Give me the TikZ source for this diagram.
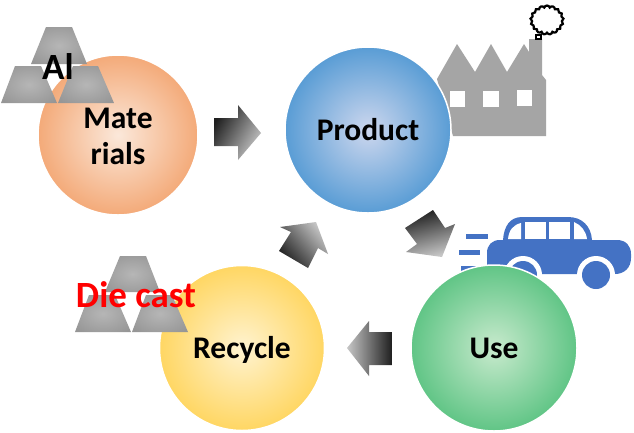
\documentclass[tikz,border=0pt]{standalone}
\usepackage{fontspec}
\setmainfont{Carlito}
\usetikzlibrary{shapes.symbols}
\definecolor{carblue}{HTML}{4472C4}
\definecolor{factorygrey}{HTML}{A5A5A5}
\newcommand{\nudgetext}[2]{\raisebox{#1}[\height][\depth]{#2}}
\pgfdeclareradialshading{ballorange}{\pgfpointorigin}{color(0bp)=(rgb,255:red,251;green,232;blue,218);color(27bp)=(rgb,255:red,243;green,165;blue,113);color(50bp)=(rgb,255:red,243;green,165;blue,113)}
\pgfdeclareradialshading{ballblue}{\pgfpointorigin}{color(0bp)=(rgb,255:red,205;green,215;blue,238);color(27bp)=(rgb,255:red,80;green,152;blue,211);color(50bp)=(rgb,255:red,80;green,152;blue,211)}
\pgfdeclareradialshading{ballgreen}{\pgfpointorigin}{color(0bp)=(rgb,255:red,200;green,234;blue,205);color(27bp)=(rgb,255:red,88;green,194;blue,128);color(50bp)=(rgb,255:red,88;green,194;blue,128)}
\pgfdeclareradialshading{ballyellow}{\pgfpointorigin}{color(0bp)=(rgb,255:red,255;green,243;blue,208);color(27bp)=(rgb,255:red,255;green,212;blue,90);color(50bp)=(rgb,255:red,255;green,212;blue,90)}
\pgfdeclareradialshading{ingotshade}{\pgfpointorigin}{color(0bp)=(rgb,255:red,182;green,182;blue,182);color(32bp)=(rgb,255:red,150;green,150;blue,150);color(50bp)=(rgb,255:red,150;green,150;blue,150)}
\tikzset{
  ball/.style={circle,draw=white,line width=1.5pt,inner sep=0pt,outer sep=0pt,minimum size=#1,align=center,
    font=\fontsize{31.5}{36}\selectfont\bfseries,text=black},
  ingot/.style={shading=ingotshade},
  flowarrow/.style={top color=black!88,bottom color=black!22,middle color=black!55},
  speedline/.style={fill=carblue},
  bigtext/.style={font=\fontsize{37}{37}\selectfont\bfseries,inner sep=0pt},
}
\begin{document}
\begin{tikzpicture}[x=1pt,y=-1pt]
\useasboundingbox[fill=white] (0,0) rectangle (634,432);
% factory
\fill[factorygrey] (437,79) -- (457,44) -- (475,72) -- (491,44) -- (507,72) -- (524,44) -- (529,52) -- (529,39) -- (542,39) -- (542,75) -- (546,80) -- (546,136) -- (453,136) -- cycle;
\fill[white] (450,91) rectangle (465,107);
\fill[white] (483,91) rectangle (499,107);
\fill[white] (517,90) rectangle (532,106);
\node[cloud,cloud puffs=17,cloud puff arc=150,draw=black,line width=2.2pt,fill=white,minimum width=33pt,minimum height=29pt,inner sep=0pt,aspect=1.1] (smoke) at (547,20) {};
\draw[black,line width=1.4pt,fill=white] (536,35) rectangle (541,39);
% car
\fill[speedline] (466,234) rectangle (488,239);
\fill[speedline] (459,250) rectangle (480,255);
\fill[speedline] (461,266) rectangle (482,271);
\fill[carblue] (487,253) .. controls (487,245) and (492,240) .. (500,240) -- (503,240) .. controls (504,226) and (510,217) .. (522,217) -- (568,217) .. controls (582,217) and (591,226) .. (592,240) -- (617,240) .. controls (626,240) and (631,246) .. (631,254) -- (631,258) .. controls (631,268) and (624,274) .. (615,274) -- (487,274) -- cycle;
\fill[white] (508,239) .. controls (509,230) and (513,225) .. (521,223) -- (521,239) -- cycle;
\fill[white] (525,222) rectangle (546,239);
\fill[white] (549,222) rectangle (570,239);
\fill[white] (574,222) .. controls (581,225) and (586,231) .. (587,239) -- (574,239) -- cycle;
\fill[white] (523,275) circle (19);
\fill[white] (596,275) circle (19);
\fill[carblue] (523,275) circle (14);
\fill[carblue] (596,275) circle (14);
% circles
\node[ball=160pt,shading=ballorange] (materials) at (118,135) {\nudgetext{-1pt}{Mate}\\\nudgetext{-1pt}{rials}};
\node[ball=166pt,shading=ballblue] (product) at (368,130) {\nudgetext{0.5pt}{Product}};
\node[ball=166pt,shading=ballgreen] (use) at (494,348) {Use};
\node[ball=165pt,shading=ballyellow] (recycle) at (242,348) {\nudgetext{-2pt}{Recycle}};
% block arrows
\shade[flowarrow,shading angle=60] (214,118) -- (238,118) -- (238,105) -- (261,133) -- (238,160) -- (238,146) -- (214,146) -- cycle;
\shade[flowarrow,shading angle=15] (405,228) -- (433,210) -- (445,228) -- (455,224) -- (442,257) -- (406,252) -- (417,244) -- cycle;
\shade[flowarrow,shading angle=-90] (347,348) -- (369,321) -- (369,332) -- (392,332) -- (392,365) -- (369,365) -- (369,376) -- cycle;
\shade[flowarrow,shading angle=130] (316,222) -- (328,254) -- (318,248) -- (308,268) -- (279,251) -- (291,232) -- (280,227) -- cycle;
% ingots Al
\shade[ingot] (46,27) -- (72,27) -- (87,64) -- (31,64) -- cycle;
\shade[ingot] (15,66) -- (41,66) -- (57,103) -- (1,103) -- cycle;
\shade[ingot] (73,66) -- (98,66) -- (114,103) -- (58,103) -- cycle;
\node[bigtext] (al) at (58,67) {Al};
% ingots die cast
\shade[ingot] (120,256) -- (146,256) -- (160,292) -- (105,292) -- cycle;
\shade[ingot] (89,295) -- (115,295) -- (131,332) -- (75,332) -- cycle;
\shade[ingot] (146,295) -- (172,295) -- (188,332) -- (132,332) -- cycle;
\node[bigtext,text=red] (diecast) at (136,295) {Die cast};
\end{tikzpicture}
\end{document}
